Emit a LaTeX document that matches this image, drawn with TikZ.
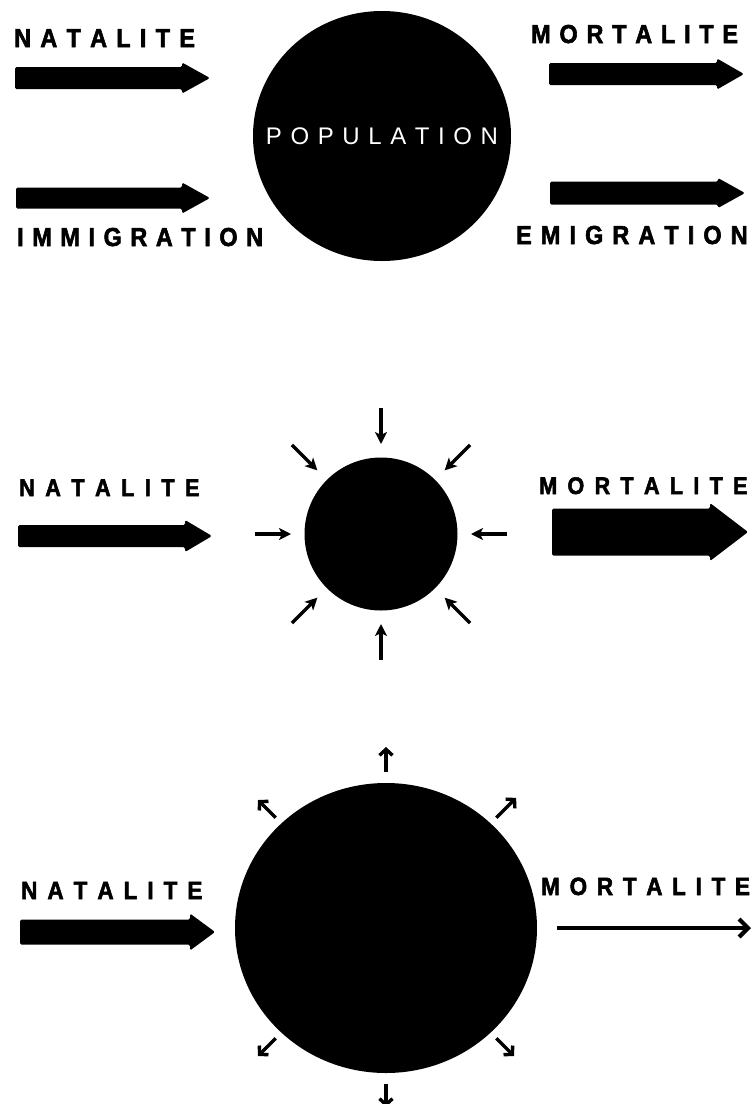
\documentclass[tikz,border=0pt]{standalone}
\usepackage{fontspec}
\setmainfont{Liberation Sans}
\newfontfamily\lblfont{Liberation Sans Bold}[FakeBold=2.2, FakeStretch=0.9]
\usetikzlibrary{shapes.geometric,arrows.meta,calc}

\newcommand\trackit[2]{{\def\tkamt{#1}\trackloop#2\relax\unkern}}
\def\trackloop#1{\ifx#1\relax\else#1\kern\tkamt pt\relax\expandafter\trackloop\fi}

% x1, x2 (tip), y centre, body half height, head half height, head start
\newcommand\blockarrow[6]{%
  \fill[rounded corners=1.5pt] (#1,#3-#4) -- (#6,#3-#4) -- (#6,#3-#5) -- (#2,#3)
     -- (#6,#3+#5) -- (#6,#3+#4) -- (#1,#3+#4) -- cycle;}

\tikzset{
  lbl/.style={anchor=base west, inner sep=0pt, font=\lblfont\fontsize{#1}{#1}\selectfont},
  blob/.style={fill=black, draw=none, inner sep=0pt},
  inarr/.style={line width=3.4pt, -{Stealth[length=12pt,width=12pt,inset=3pt]}},
  outarr/.style={line width=3.4pt, -{Straight Barb[length=6pt,width=13pt]}},
  thinarr/.style={line width=4.2pt, -{Straight Barb[length=9pt,width=18pt]}}
}

\begin{document}
\begin{tikzpicture}[x=1pt,y=-1pt]
\fill[white] (0,0) rectangle (752,1104);
\useasboundingbox (0,0) rectangle (752,1104);

% ---------- top panel ----------
\node[blob, ellipse, minimum width=258pt, minimum height=250pt] (pop) at (382,136) {};
\node[text=white, inner sep=0pt, font=\fontsize{24}{24}\selectfont] (poplbl) at (pop.center) {\trackit{8.6}{POPULATION}};

\node[lbl=26] (nat1) at (14,47) {\trackit{9.3}{NATALITE}};
\node[lbl=26] (mor1) at (531,43) {\trackit{8.8}{MORTALITE}};
\node[lbl=26] (imm1) at (17,246) {\trackit{8.6}{IMMIGRATION}};
\node[lbl=26] (emi1) at (516,244) {\trackit{9.1}{EMIGRATION}};

\blockarrow{15}{210}{78}{11}{15.5}{182}
\blockarrow{16}{210}{198}{10.5}{15.5}{182}
\blockarrow{549}{744}{74}{11}{15.5}{717}
\blockarrow{550}{745}{193}{11.5}{15}{718}

% ---------- middle panel ----------
\node[blob, circle, minimum size=153pt] (c2) at (381,534) {};
\node[lbl=24] (nat2) at (19,496) {\trackit{10.5}{NATALITE}};
\node[lbl=24] (mor2) at (539,494) {\trackit{10.3}{MORTALITE}};
\blockarrow{18}{212}{536}{11}{16}{185}
\blockarrow{552}{748}{532}{23.5}{29}{710}

\foreach \a in {0,45,...,315}{
  \coordinate (mo\a) at ($(c2.center)+(\a:126pt)$);
  \coordinate (mi\a) at ($(c2.center)+(\a:90pt)$);
  \draw[inarr] (mo\a) -- (mi\a);
}

% ---------- bottom panel ----------
\node[blob, ellipse, minimum width=302pt, minimum height=290pt] (c3) at (386,928) {};
\node[lbl=25] (nat3) at (21,899) {\trackit{10}{NATALITE}};
\node[lbl=25] (mor3) at (541,895) {\trackit{9.7}{MORTALITE}};
\blockarrow{20}{215}{932}{12.5}{18.5}{190}

\coordinate (mt0) at (557,928);
\coordinate (mt1) at (751,928);
\draw[thinarr] (mt0) -- (mt1);

\foreach \a/\r in {90/0, 45/3, 135/0, 225/0, 315/0, 270/-2}{
  \coordinate (bo\a) at ($(c3.center)+(\a:156pt)$);
  \coordinate (be\a) at ($(c3.center)+(\a:181pt+\r pt)$);
  \draw[outarr] (bo\a) -- (be\a);
}
\end{tikzpicture}
\end{document}
